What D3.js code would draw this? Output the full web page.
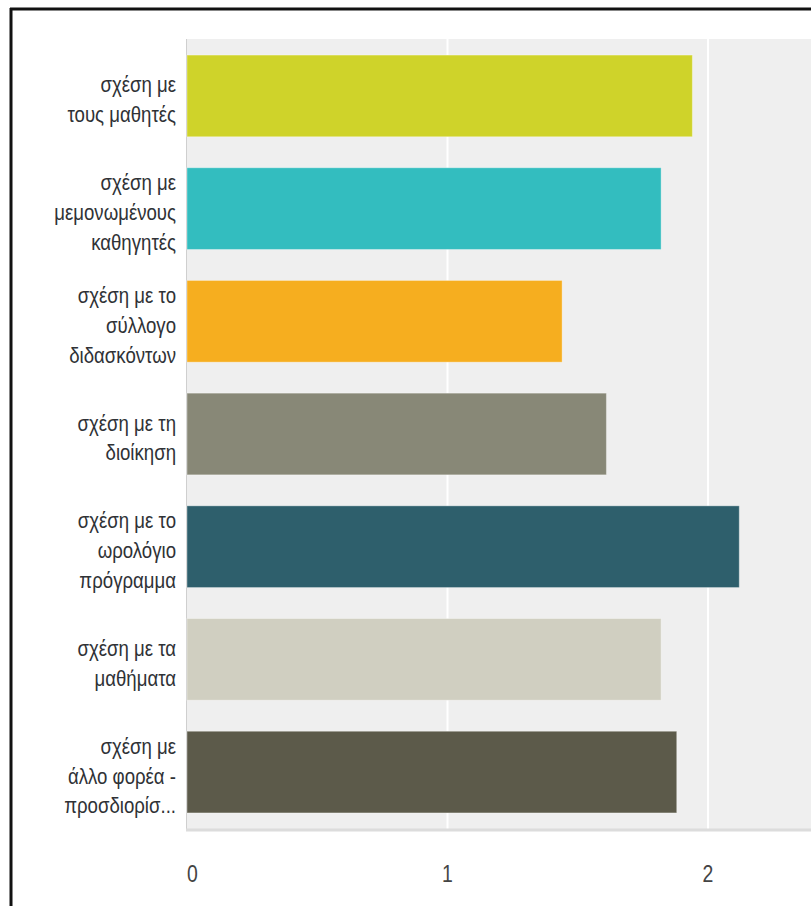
<!DOCTYPE html>
<html>
<head>
<meta charset="utf-8">
<script src="https://cdn.jsdelivr.net/npm/d3@7"></script>
<style>
  body { margin: 0; background: #fff; }
  text { font-family: "Liberation Sans", Arial, sans-serif; }
</style>
</head>
<body>
<svg id="chart" width="811" height="906"></svg>
<script>
// categories (each label already split into lines)
var categories = [
    ["σχέση με", "τους μαθητές"],
    ["σχέση με", "μεμονωμένους", "καθηγητές"],
    ["σχέση με το", "σύλλογο", "διδασκόντων"],
    ["σχέση με τη", "διοίκηση"],
    ["σχέση με το", "ωρολόγιο", "πρόγραμμα"],
    ["σχέση με τα", "μαθήματα"],
    ["σχέση με", "άλλο φορέα -", "προσδιορίσ..."]
];
var values = [1.94, 1.82, 1.44, 1.61, 2.12, 1.82, 1.88];
var colors = ["#cfd32a", "#33bdbf", "#f6ae1f", "#888877", "#2e5f6c", "#d0cfc1", "#5c5a4a"];
var ticks = [0, 1, 2];

var svg = d3.select("#chart");

/** plot box */
var plot = { left: 187, top: 39, bottom: 829, unit: 260.5 };
// the picture's text is squeezed sideways
var squeeze = 0.81;

var x = d3.scaleLinear()
    .domain([0, 2.5])
    .range([plot.left, plot.left + 2.5 * plot.unit]);

var y = d3.scaleBand()
    .domain(d3.range(categories.length))
    .range([plot.top, plot.bottom])
    .paddingInner(0.275)
    .paddingOuter(0.1425);

// frame round the picture (left and top only are visible)
svg.append("line").attr("x1", 11).attr("x2", 11).attr("y1", 8).attr("y2", 906)
    .attr("stroke", "#111").attr("stroke-width", 3);
svg.append("line").attr("x1", 10).attr("x2", 811).attr("y1", 9).attr("y2", 9)
    .attr("stroke", "#111").attr("stroke-width", 3);

// background
svg.append("rect")
    .attr("x", plot.left - 1).attr("y", plot.top)
    .attr("width", 811 - plot.left + 1).attr("height", plot.bottom - plot.top)
    .attr("fill", "#efefef");

// gridlines
svg.append("g").selectAll("line")
    .data(ticks.slice(1))
    .enter().append("line")
    .attr("x1", d => x(d)).attr("x2", d => x(d))
    .attr("y1", plot.top).attr("y2", plot.bottom)
    .attr("stroke", "#fff").attr("stroke-width", 2);

// left edge + bottom edge
svg.append("line").attr("x1", plot.left - 0.5).attr("x2", plot.left - 0.5)
    .attr("y1", plot.top).attr("y2", plot.bottom + 2)
    .attr("stroke", "#cfcfcf").attr("stroke-width", 1);
svg.append("line").attr("x1", plot.left - 1).attr("x2", 811)
    .attr("y1", plot.bottom + 1).attr("y2", plot.bottom + 1)
    .attr("stroke", "#dcdcdc").attr("stroke-width", 3);

// bars
svg.append("g").selectAll("rect")
    .data(values)
    .enter().append("rect")
    .attr("x", x(0))
    .attr("y", (d, i) => y(i))
    .attr("width", d => x(d) - x(0))
    .attr("height", y.bandwidth())
    .attr("fill", (d, i) => colors[i])
    .attr("stroke", "#ffffff").attr("stroke-opacity", 0.35).attr("stroke-width", 1);

// category labels
var lineH = 29.8;
var labels = svg.append("g")
    .attr("transform", "translate(176,0) scale(" + squeeze + ",1)")
    .selectAll("text")
    .data(categories)
    .enter().append("text")
    .attr("text-anchor", "end")
    .attr("font-size", 23)
    .attr("fill", "#2f3236");

labels.each(function (lines, i) {
    var cy = y(i) + y.bandwidth() / 2 + 5;
    d3.select(this).selectAll("tspan")
        .data(lines)
        .enter().append("tspan")
        .attr("x", 0)
        .attr("y", (d, k) => cy + (k - (lines.length - 1) / 2) * lineH + 6.5)
        .text(d => d);
});

// x tick labels
svg.append("g").selectAll("text")
    .data(ticks)
    .enter().append("text")
    .attr("transform", d => "translate(" + x(d) + ",882) scale(" + squeeze + ",1)")
    .attr("text-anchor", (d, i) => i === 0 ? "start" : "middle")
    .attr("font-size", 24)
    .attr("fill", "#444")
    .text(d => d);
</script>
</body>
</html>
